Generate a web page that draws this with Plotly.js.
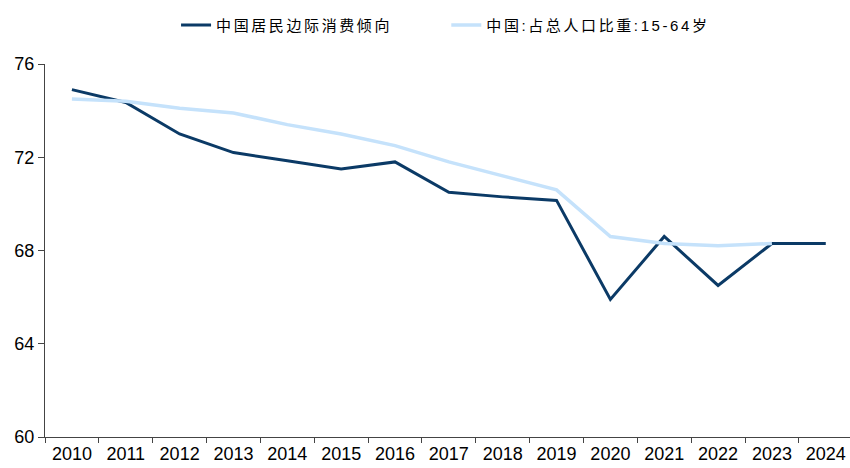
<!DOCTYPE html>
<html>
<head>
<meta charset="utf-8">
<script src="https://cdn.plot.ly/plotly-3.0.1.min.js"></script>
<style>html,body{margin:0;padding:0;background:#fff;}#chart{width:850px;height:468px;}
.legendtext, .legendtext tspan, g.legend text, g.legend2 text{letter-spacing:2.6px !important;}</style>
</head>
<body>
<div id="chart"></div>
<script>
var years = ["2010","2011","2012","2013","2014","2015","2016","2017","2018","2019","2020","2021","2022","2023","2024"];
var mpcValues = [74.9, 74.35, 73.0, 72.2, 71.85, 71.5, 71.8, 70.5, 70.3, 70.15, 65.9, 68.6, 66.5, 68.3, 68.3];
var workingAgeYears = ["2010","2011","2012","2013","2014","2015","2016","2017","2018","2019","2020","2021","2022","2023"];
var workingAgeShare = [74.5, 74.4, 74.1, 73.9, 73.4, 73.0, 72.5, 71.8, 71.2, 70.6, 68.6, 68.3, 68.2, 68.3];
var yTicks = [60, 64, 68, 72, 76];
var seriesNames = ["中国居民边际消费倾向", "中国:占总人口比重:15-64岁"];

var fontFam = "Liberation Sans, Arial, sans-serif";
var legFont = {family: "Liberation Sans, Noto Sans CJK SC, sans-serif", size: 15, color: "#000"};
var traces = [
  {x: years, y: mpcValues, name: seriesNames[0], type: "scatter", mode: "lines",
   line: {color: "#0b3a66", width: 3}, legend: "legend"},
  {x: workingAgeYears, y: workingAgeShare, name: seriesNames[1], type: "scatter", mode: "lines",
   line: {color: "#c5e2fb", width: 3.5}, legend: "legend2"}
];
var layout = {
  width: 850, height: 468,
  margin: {l: 45, r: 0, t: 64, b: 31},
  paper_bgcolor: "#fff", plot_bgcolor: "#fff",
  font: {family: fontFam, size: 18, color: "#000"},
  showlegend: true,
  legend: {orientation: "h", x: 0.1628, xanchor: "left", y: 1.104, yanchor: "middle",
           font: legFont, bgcolor: "rgba(0,0,0,0)", entrywidth: 250},
  legend2: {orientation: "h", x: 0.4985, xanchor: "left", y: 1.104, yanchor: "middle",
           font: legFont, bgcolor: "rgba(0,0,0,0)", entrywidth: 290},
  xaxis: {type: "category", range: [-0.5, 14.45], tickson: "boundaries", ticks: "outside",
          ticklen: 5, tickcolor: "#444", showline: true, linecolor: "#444", linewidth: 1,
          showgrid: false, zeroline: false, tickfont: {size: 18, family: fontFam}, fixedrange: true},
  yaxis: {range: [60, 76], tickvals: yTicks, ticktext: yTicks.map(String), ticks: "outside",
          ticklen: 6, tickcolor: "#444", showline: true, linecolor: "#444", linewidth: 1,
          showgrid: false, zeroline: false, tickfont: {size: 18, family: fontFam}, fixedrange: true}
};
Plotly.newPlot("chart", traces, layout, {staticPlot: true, displayModeBar: false});
</script>
</body>
</html>
